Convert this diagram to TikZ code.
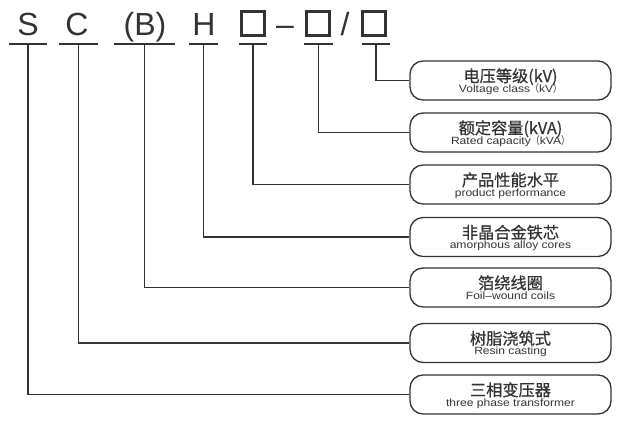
\documentclass[tikz,border=0pt]{standalone}
\usepackage{fontspec}
\setmainfont{Liberation Sans}
\newfontfamily\cjk[FakeBold=0.6]{Noto Sans CJK SC}
\newfontfamily\cjkp[FakeStretch=0.85]{Noto Sans CJK SC}
\newfontfamily\wide[FakeStretch=1.15]{Liberation Sans}
\definecolor{ink}{HTML}{333333}
\begin{document}
\begin{tikzpicture}[x=1pt,y=-1pt,
  ln/.style={draw=ink,line width=1.3pt},
  uline/.style={draw=ink,line width=1.6pt},
  code/.style={font=\fontsize{32}{32}\selectfont,text=ink,inner sep=0pt,anchor=base},
  slot/.style={draw=ink,line width=2.6pt,minimum width=23.5pt,minimum height=24.5pt,inner sep=0pt},
  tag/.style={draw=ink,line width=1.3pt,rounded corners=13pt,minimum width=201pt,minimum height=39pt,inner sep=0pt},
  zh/.style={font=\cjk\fontsize{16.2}{16.2}\selectfont,text=ink,inner sep=0pt,anchor=base},
  en/.style={font=\wide\fontsize{10.5}{10.5}\selectfont,text=ink,inner sep=0pt,anchor=base}]
\useasboundingbox (0,0) rectangle (624,424);
% code letters
\node[code] (lS) at (28,35) {S};
\node[code] (lC) at (77,35) {C};
\node[code] (lB) at (145,35) {(B)};
\node[code] (lH) at (204,35) {H};
\node[slot] (q1) at (253,23.5) {};
\node[code] (dash) at (285,35) {–};
\node[slot] (q2) at (318,23.5) {};
\node[code] (sl) at (345,35) {/};
\node[slot] (q3) at (374,23.5) {};
% stems
\coordinate (tS) at (28,44);
\coordinate (tC) at (78.5,44);
\coordinate (tB) at (144.5,44);
\coordinate (tH) at (203.5,44);
\coordinate (t1) at (253,44);
\coordinate (t2) at (318.5,44);
\coordinate (t3) at (376,44);
\draw[uline] ([xshift=-19pt]tS) -- ([xshift=19pt]tS);
\draw[uline] ([xshift=-19.5pt]tC) -- ([xshift=19.5pt]tC);
\draw[uline] ([xshift=-30.5pt]tB) -- ([xshift=30.5pt]tB);
\draw[uline] ([xshift=-14.5pt]tH) -- ([xshift=14.5pt]tH);
\draw[uline] ([xshift=-14pt]t1) -- ([xshift=14pt]t1);
\draw[uline] ([xshift=-14.5pt]t2) -- ([xshift=14.5pt]t2);
\draw[uline] ([xshift=-14pt]t3) -- ([xshift=14pt]t3);
% label boxes
\node[tag] (b1) at (510.5,80.5) {};
\node[tag] (b2) at (510.5,132.5) {};
\node[tag] (b3) at (510.5,184.5) {};
\node[tag] (b4) at (510.5,237) {};
\node[tag] (b5) at (510.5,287.5) {};
\node[tag] (b6) at (510.5,343) {};
\node[tag] (b7) at (510.5,394.5) {};
\node[zh] (z1) at ([yshift=-1.5pt]b1.center) {电压等级(kV)};
\node[en] (e1) at ([yshift=-11.5pt]b1.center) {Voltage class{\cjkp（}kV{\cjkp）}};
\node[zh] (z2) at ([yshift=-1.5pt]b2.center) {额定容量(kVA)};
\node[en] (e2) at ([yshift=-11.5pt]b2.center) {Rated capacity{\cjkp（}kVA{\cjkp）}};
\node[zh] (z3) at ([yshift=-1.5pt]b3.center) {产品性能水平};
\node[en] (e3) at ([yshift=-11.5pt]b3.center) {product performance};
\node[zh] (z4) at ([yshift=-1.5pt]b4.center) {非晶合金铁芯};
\node[en] (e4) at ([yshift=-11.5pt]b4.center) {amorphous alloy cores};
\node[zh] (z5) at ([yshift=-1.5pt]b5.center) {箔绕线圈};
\node[en] (e5) at ([yshift=-11.5pt]b5.center) {Foil–wound coils};
\node[zh] (z6) at ([yshift=-1.5pt]b6.center) {树脂浇筑式};
\node[en] (e6) at ([yshift=-11.5pt]b6.center) {Resin casting};
\node[zh] (z7) at ([yshift=-1.5pt]b7.center) {三相变压器};
\node[en] (e7) at ([yshift=-11.5pt]b7.center) {three phase transformer};
% connectors
\draw[ln] (t3) |- (b1.west);
\draw[ln] (t2) |- (b2.west);
\draw[ln] (t1) |- (b3.west);
\draw[ln] (tH) |- (b4.west);
\draw[ln] (tB) |- (b5.west);
\draw[ln] (tC) |- (b6.west);
\draw[ln] (tS) |- (b7.west);
\end{tikzpicture}
\end{document}
